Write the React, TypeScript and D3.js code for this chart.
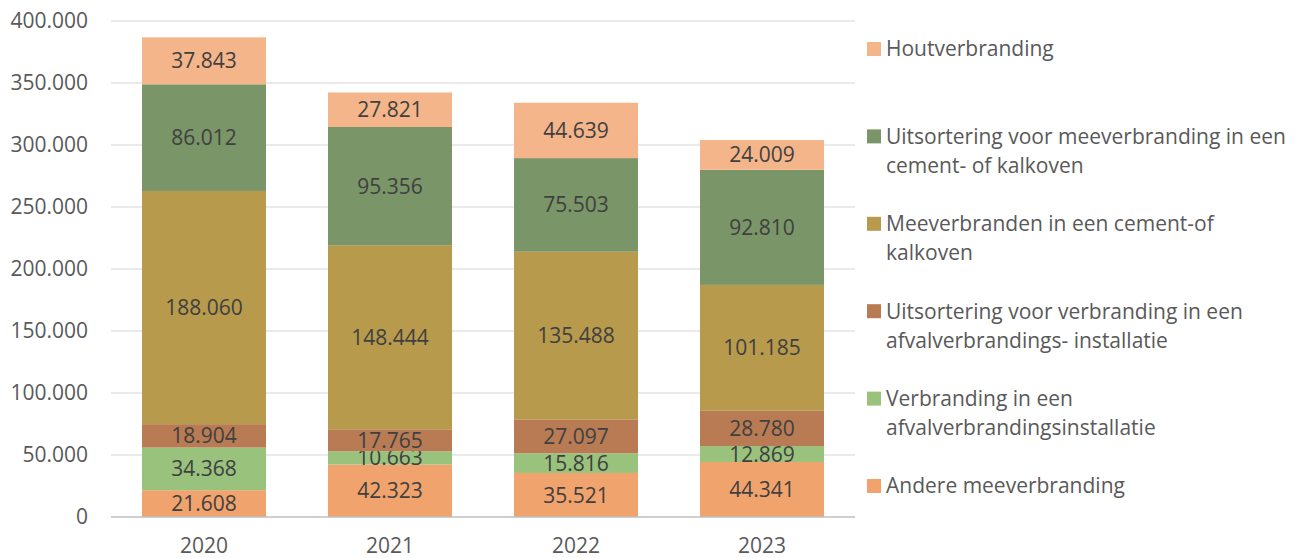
import React from "react";
import * as d3 from "d3";

const years = ["2020", "2021", "2022", "2023"];
const seriesNames = [
  "Andere meeverbranding",
  "Verbranding in een afvalverbrandingsinstallatie",
  "Uitsortering voor verbranding in een afvalverbrandings- installatie",
  "Meeverbranden in een cement-of kalkoven",
  "Uitsortering voor meeverbranding in een cement- of kalkoven",
  "Houtverbranding",
];
const andere = [21608, 42323, 35521, 44341];
const verbranding = [34368, 10663, 15816, 12869];
const uitsVerbranding = [18904, 17765, 27097, 28780];
const meeverbranden = [188060, 148444, 135488, 101185];
const uitsMeeverbranding = [86012, 95356, 75503, 92810];
const hout = [37843, 27821, 44639, 24009];
const seriesValues = [andere, verbranding, uitsVerbranding, meeverbranden, uitsMeeverbranding, hout];
const colors = ["#F1A36D", "#99C27C", "#B87B53", "#B79A4C", "#7A9567", "#F4B58A"];
const yTicks = [0, 50000, 100000, 150000, 200000, 250000, 300000, 350000, 400000];
const legendOrder = [5, 4, 3, 2, 1, 0];
const legendLines: Record<number, string[]> = {
  5: ["Houtverbranding"],
  4: ["Uitsortering voor meeverbranding in een", "cement- of kalkoven"],
  3: ["Meeverbranden in een cement-of", "kalkoven"],
  2: ["Uitsortering voor verbranding in een", "afvalverbrandings- installatie"],
  1: ["Verbranding in een", "afvalverbrandingsinstallatie"],
  0: ["Andere meeverbranding"],
};

const fmt = (v: number) => {
  if (v === 0) return "0";
  const s = Math.round(v).toString();
  return s.replace(/\B(?=(\d{3})+(?!\d))/g, ".");
};

const FONT = "'Open Sans', sans-serif";
const FS = 21;

export default function App() {
  const W = 1303, H = 558;
  const left = 111, right = 855, top = 21, bottom = 517;
  const x = d3.scaleBand<string>().domain(years).range([left, right]).paddingInner(1 / 3).paddingOuter(1 / 6);
  const y = d3.scaleLinear().domain([0, 400000]).range([bottom, top]);

  const table = years.map((yr, i) => {
    const o: Record<string, number | string> = { year: yr };
    seriesNames.forEach((n, k) => (o[n] = seriesValues[k][i]));
    return o;
  });
  const stacked = d3.stack<any>().keys(seriesNames)(table as any);

  return (
    <svg width={W} height={H} style={{ position: "absolute", left: 0, top: 0 }} fontFamily={FONT}>
      <rect width={W} height={H} fill="#fff" />
      {yTicks.map((t) => (
        <g key={t}>
          {t !== 0 && <line x1={left} x2={right} y1={y(t)} y2={y(t)} stroke="#e3e3e3" strokeWidth={1.3} />}
          <text x={88} y={y(t)} dy="0.35em" textAnchor="end" fontSize={FS} fill="#595959">
            {fmt(t)}
          </text>
        </g>
      ))}
      {stacked.map((layer, k) => (
        <g key={k}>
          {layer.map((d, i) => {
            const y0 = y(d[0]), y1 = y(d[1]);
            const xx = x(years[i])!;
            return (
              <g key={i}>
                <rect x={xx} y={y1} width={x.bandwidth()} height={y0 - y1} fill={colors[k]} />
                <text
                  x={xx + x.bandwidth() / 2}
                  y={(y0 + y1) / 2}
                  dy="0.36em"
                  textAnchor="middle"
                  fontSize={FS}
                  fill="#404040"
                >
                  {fmt(d[1] - d[0])}
                </text>
              </g>
            );
          })}
        </g>
      ))}
      <line x1={left} x2={right} y1={bottom} y2={bottom} stroke="#bfbfbf" strokeWidth={1.5} />
      {years.map((yr) => (
        <text key={yr} x={x(yr)! + x.bandwidth() / 2} y={546} dy="0.35em" textAnchor="middle" fontSize={FS} fill="#595959">
          {yr}
        </text>
      ))}
      {legendOrder.map((k, idx) => {
        const cy = 49 + idx * 87.4;
        return (
          <g key={k}>
            <rect x={867} y={cy - 7} width={14} height={14} fill={colors[k]} />
            {legendLines[k].map((line, j) => (
              <text key={j} x={886} y={cy + j * 29} dy="0.35em" fontSize={FS} fill="#595959">
                {line}
              </text>
            ))}
          </g>
        );
      })}
    </svg>
  );
}
